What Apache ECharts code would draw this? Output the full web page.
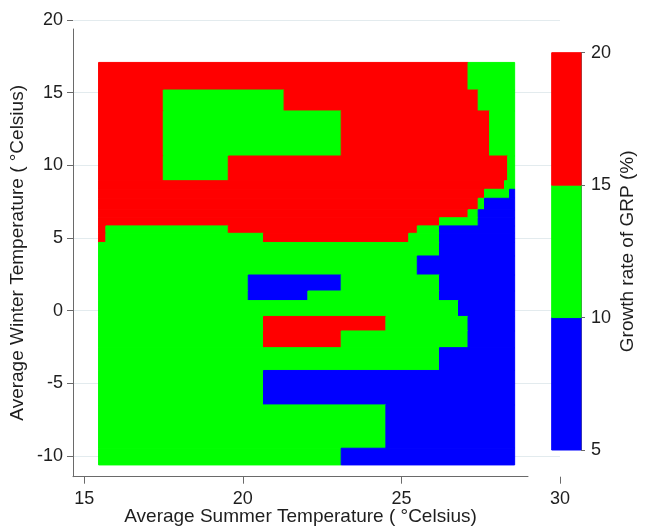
<!DOCTYPE html>
<html>
<head>
<meta charset="utf-8">
<script src="https://cdn.jsdelivr.net/npm/echarts@6/dist/echarts.min.js"></script>
<style>
  html, body { margin: 0; padding: 0; background: #fff; }
  #chart { width: 662px; height: 528px; }
</style>
</head>
<body>
<div id="chart"></div>
<script>
// cell edges (deg C)
var xEdges = [15.45, 15.68, 17.49, 19.54, 20.17, 20.65, 21.30, 22.05, 23.10, 24.51, 25.23,
              25.50, 26.20, 26.80, 27.10, 27.42, 27.62, 27.78, 28.25, 28.35, 28.41, 28.57];
var yEdges = [17.08, 15.18, 13.74, 10.64, 8.94, 8.35, 7.73, 6.94, 6.39, 5.83, 5.32, 4.69,
              3.76, 2.45, 1.35, 0.69, -0.40, -1.40, -2.55, -4.12, -6.49, -9.47, -10.62];
// one row per band of yEdges (top to bottom), runs of columns: B = 5-10, G = 10-15, R = 15-20
var cellRows = [
  '14R 7G',
  '2R 4G 9R 6G',
  '2R 6G 9R 4G',
  '2R 1G 16R 2G',
  '18R 3G',
  '16R 4G 1B',
  '15R 1G 5B',
  '14R 1G 6B',
  '12R 3G 6B',
  '1R 2G 8R 1G 9B',
  '1R 4G 5R 2G 9B',
  '12G 9B',
  '11G 10B',
  '4G 4B 4G 9B',
  '4G 3B 5G 9B',
  '13G 8B',
  '5G 4R 5G 7B',
  '5G 3R 6G 7B',
  '12G 9B',
  '5G 16B',
  '9G 12B',
  '8G 13B'
];
var classValue = { B: 7.5, G: 12.5, R: 17.5 };
var bandEdges = [5, 10, 15, 20];
var bandColors = ['#0000ff', '#00ff00', '#ff0000'];
var xTicks = [15, 20, 25, 30];
var yTicks = [-10, -5, 0, 5, 10, 15, 20];

var font = '"Liberation Sans", Arial, sans-serif';
var textColor = '#1e1e1e';
var axisColor = '#6a6a6a';

// [x0, y0, x1, y1, value]
var cells = [];
cellRows.forEach(function (row, j) {
  var i = 0;
  row.split(' ').forEach(function (run) {
    var n = parseInt(run, 10);
    var c = run.charAt(run.length - 1);
    cells.push([xEdges[i], yEdges[j], xEdges[i + n], yEdges[j + 1], classValue[c]]);
    i += n;
  });
});

var bands = [];
for (var k = 0; k < bandColors.length; k++) {
  bands.push([0, bandEdges[k], 1, bandEdges[k + 1], (bandEdges[k] + bandEdges[k + 1]) / 2]);
}

function drawRect(params, api) {
  var a = api.coord([api.value(0), api.value(1)]);
  var b = api.coord([api.value(2), api.value(3)]);
  var c = api.visual('color');
  return {
    type: 'rect',
    shape: {
      x: Math.min(a[0], b[0]), y: Math.min(a[1], b[1]),
      width: Math.abs(b[0] - a[0]), height: Math.abs(b[1] - a[1])
    },
    style: { fill: c, stroke: c, lineWidth: 1 }
  };
}

var chart = echarts.init(document.getElementById('chart'), null, { renderer: 'canvas' });

var option = {
  backgroundColor: '#fff',
  animation: false,
  textStyle: { fontFamily: font },
  grid: [
    { left: 73, top: 20, width: 487, height: 456.7, outerBoundsMode: 'none' },      // cells, ticks, labels
    { left: 73, top: 29, width: 455, height: 447.7, outerBoundsMode: 'none' },      // axis lines and titles
    { left: 551.7, top: 52.7, width: 29.3, height: 397.3, outerBoundsMode: 'none' } // colour key
  ],
  visualMap: {
    type: 'piecewise',
    show: false,
    dimension: 4,
    seriesIndex: [0, 1],
    pieces: bandColors.map(function (c, k) {
      return { min: bandEdges[k], max: bandEdges[k + 1], color: c };
    })
  },
  xAxis: [
    {
      gridIndex: 0, type: 'value', min: 14.644, max: 30,
      axisLine: { show: false, onZero: false },
      axisTick: { customValues: xTicks, length: 7, lineStyle: { color: axisColor } },
      axisLabel: { customValues: xTicks, margin: 13, fontSize: 18, color: textColor, fontFamily: font },
      splitLine: { show: false }
    },
    {
      gridIndex: 1, type: 'value', min: 0, max: 1,
      axisLine: { show: true, onZero: false, lineStyle: { color: axisColor } },
      axisTick: { show: false }, axisLabel: { show: false }, splitLine: { show: false },
      name: 'Average Summer Temperature ( °Celsius)', nameLocation: 'middle', nameGap: 31,
      nameTextStyle: { fontSize: 19, color: textColor, fontFamily: font }
    },
    { gridIndex: 2, type: 'value', min: 0, max: 1, show: false }
  ],
  yAxis: [
    {
      gridIndex: 0, type: 'value', min: -11.43, max: 20, minInterval: 5, maxInterval: 5,
      axisLine: { show: false, onZero: false },
      axisTick: { customValues: yTicks, length: 6, lineStyle: { color: axisColor } },
      axisLabel: { customValues: yTicks, margin: 10, fontSize: 18, color: textColor, fontFamily: font },
      splitLine: { show: true, lineStyle: { color: '#e3ebee', width: 1 } }
    },
    {
      gridIndex: 1, type: 'value', min: 0, max: 1,
      axisLine: { show: true, onZero: false, lineStyle: { color: axisColor } },
      axisTick: { show: false }, axisLabel: { show: false }, splitLine: { show: false },
      name: 'Average Winter Temperature ( °Celsius)', nameLocation: 'middle', nameGap: 46,
      nameTextStyle: { fontSize: 19, color: textColor, fontFamily: font }
    },
    {
      gridIndex: 2, type: 'value', position: 'right', min: 5, max: 20, interval: 5,
      axisLine: { show: true, onZero: false, lineStyle: { color: axisColor } },
      axisTick: { length: 4, lineStyle: { color: axisColor } },
      axisLabel: { margin: 10, fontSize: 18, color: textColor, fontFamily: font },
      splitLine: { show: false },
      name: 'Growth rate of GRP (%)', nameLocation: 'middle', nameGap: 37,
      nameTextStyle: { fontSize: 19, color: textColor, fontFamily: font }
    }
  ],
  series: [
    {
      type: 'custom', xAxisIndex: 0, yAxisIndex: 0, silent: true,
      encode: { x: [0, 2], y: [1, 3] },
      data: cells, renderItem: drawRect
    },
    {
      type: 'custom', xAxisIndex: 2, yAxisIndex: 2, silent: true,
      encode: { x: [0, 2], y: [1, 3] },
      data: bands, renderItem: drawRect
    }
  ]
};

chart.setOption(option);
</script>
</body>
</html>
